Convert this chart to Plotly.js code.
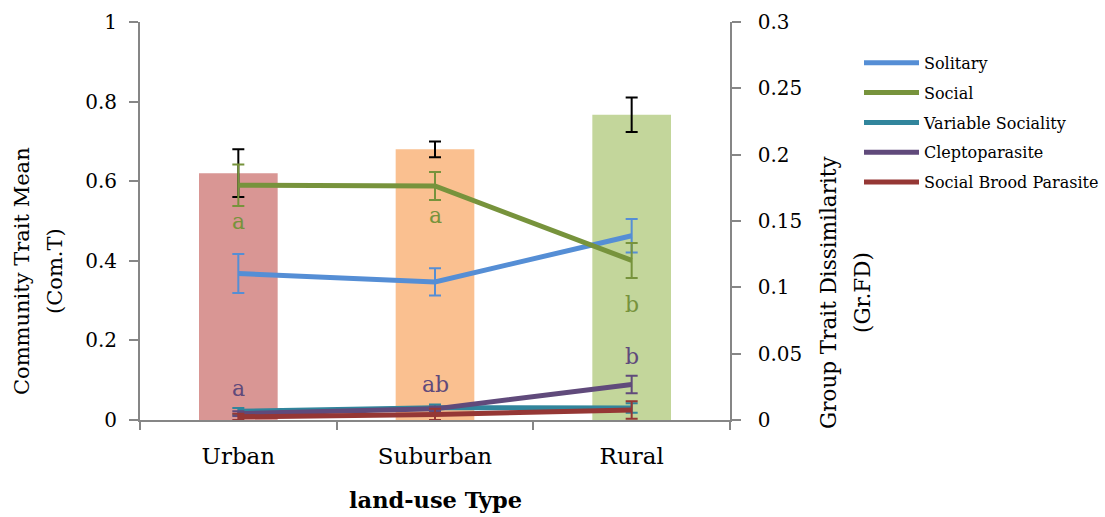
<!DOCTYPE html>
<html>
<head>
<meta charset="utf-8">
<script src="https://cdn.plot.ly/plotly-3.0.1.min.js"></script>
<style>html,body{margin:0;padding:0;background:#fff;}#chart{width:1105px;height:517px;}</style>
</head>
<body>
<div id="chart"></div>
<script>
// ---- data ----
const categories = ["Urban", "Suburban", "Rural"];
// Group Trait Dissimilarity (Gr.FD) bars, right axis
const grFD = [0.186, 0.204, 0.230];
const grFDErr = [0.018, 0.006, 0.013];
const barColors = ["#D99694", "#FAC090", "#C3D69B"];
// Community Trait Mean (Com.T) lines, left axis
const seriesNames = ["Solitary", "Social", "Variable Sociality", "Cleptoparasite", "Social Brood Parasite"];
const solitary = [0.368, 0.347, 0.463];
const solitaryErr = [0.049, 0.034, 0.042];
const social = [0.590, 0.588, 0.401];
const socialErr = [0.052, 0.035, 0.044];
const variableSociality = [0.022, 0.031, 0.030];
const variableSocialityErr = [0.008, 0.008, 0.012];
const cleptoparasite = [0.016, 0.028, 0.089];
const cleptoparasiteErr = [0.006, 0.006, 0.022];
const broodParasite = [0.008, 0.014, 0.025];
const broodParasiteErr = [0.008, 0.014, 0.022];
const lineColors = ["#558ED5", "#77933C", "#31859C", "#604A7B", "#953735"];
// significance letters
const letterText = ["a", "a", "b", "a", "ab", "b"];
const letterCat = ["Urban", "Suburban", "Rural", "Urban", "Suburban", "Rural"];
const letterY = [0.50, 0.515, 0.29, 0.08, 0.09, 0.16];
const letterColor = ["#77933C", "#77933C", "#77933C", "#604A7B", "#604A7B", "#604A7B"];
// titles
const xTitle = "land-use Type";
const leftTitle = ["Community Trait Mean", "(Com.T)"];
const rightTitle = ["Group Trait Dissimilarity", "(Gr.FD)"];

const FONT = "DejaVu Serif, Liberation Serif, serif";

const lineVals = [solitary, social, variableSociality, cleptoparasite, broodParasite];
const lineErrs = [solitaryErr, socialErr, variableSocialityErr, cleptoparasiteErr, broodParasiteErr];

const traces = [{
  type: "bar", x: categories, y: grFD, yaxis: "y",
  marker: {color: barColors}, width: 0.4, showlegend: false,
  error_y: {type: "data", array: grFDErr, visible: true, color: "#000000", thickness: 2, width: 6}
}];
seriesNames.forEach((n, i) => {
  traces.push({
    type: "scatter", mode: "lines", name: n, legendgroup: "g" + i, x: categories, y: lineVals[i], yaxis: "y2",
    line: {color: lineColors[i], width: 5},
    error_y: {type: "data", array: lineErrs[i], visible: true, color: lineColors[i], thickness: 2, width: 6}
  });
});

const annotations = letterText.map((t, i) => ({
  x: letterCat[i], y: letterY[i], xref: "x", yref: "y2", text: t, showarrow: false,
  font: {family: FONT, size: 22, color: letterColor[i]}
}));
// axis titles as annotations (paper coords relative to plot area: x 140..730 px, y 420..22 px)
const px = v => (v - 140) / 590;
const py = v => (420 - v) / 398;
annotations.push({xref: "paper", yref: "paper", x: px(435), y: py(500), text: "<b>" + xTitle + "</b>", showarrow: false,
  font: {family: FONT, size: 22.5, color: "#000"}, xanchor: "center", yanchor: "middle"});
annotations.push({xref: "paper", yref: "paper", x: px(22), y: py(271), text: leftTitle[0], textangle: -90, showarrow: false,
  font: {family: FONT, size: 21, color: "#000"}, xanchor: "center", yanchor: "middle"});
annotations.push({xref: "paper", yref: "paper", x: px(55), y: py(271), text: leftTitle[1], textangle: -90, showarrow: false,
  font: {family: FONT, size: 21, color: "#000"}, xanchor: "center", yanchor: "middle"});
annotations.push({xref: "paper", yref: "paper", x: px(828), y: py(293), text: rightTitle[0], textangle: -90, showarrow: false,
  font: {family: FONT, size: 21.5, color: "#000"}, xanchor: "center", yanchor: "middle"});
annotations.push({xref: "paper", yref: "paper", x: px(862), y: py(293), text: rightTitle[1], textangle: -90, showarrow: false,
  font: {family: FONT, size: 21.5, color: "#000"}, xanchor: "center", yanchor: "middle"});

const layout = {
  width: 1105, height: 517,
  margin: {l: 140, r: 375, t: 22, b: 97, autoexpand: false},
  paper_bgcolor: "#fff", plot_bgcolor: "#fff",
  font: {family: FONT, size: 20, color: "#000"},
  showlegend: true,
  legend: {x: px(859), xanchor: "left", y: 0.94, yanchor: "top", font: {family: FONT, size: 16},
    itemwidth: 55, bgcolor: "rgba(0,0,0,0)", tracegroupgap: 6, traceorder: "grouped"},
  xaxis: {
    type: "category", range: [-0.5, 2.5], showline: true, linecolor: "#868686", linewidth: 2,
    ticks: "outside", tickson: "boundaries", ticklen: 8, tickcolor: "#868686", tickwidth: 2,
    tickfont: {family: FONT, size: 23}, ticklabelstandoff: 14, showgrid: false, zeroline: false, automargin: false
  },
  yaxis: {
    side: "right", range: [0, 0.3], dtick: 0.05, showline: true, linecolor: "#868686", linewidth: 2,
    ticks: "outside", ticklen: 9, tickcolor: "#868686", tickwidth: 2, showgrid: false, zeroline: false,
    tickfont: {family: FONT, size: 20}, tickprefix: "\u00a0\u00a0", automargin: false
  },
  yaxis2: {
    overlaying: "y", side: "left", range: [0, 1], dtick: 0.2, showline: true, linecolor: "#868686", linewidth: 2,
    ticks: "outside", ticklen: 9, tickcolor: "#868686", tickwidth: 2, showgrid: false, zeroline: false,
    tickfont: {family: FONT, size: 20}, ticklabelstandoff: 8, automargin: false
  },
  annotations: annotations
};

Plotly.newPlot("chart", traces, layout, {displayModeBar: false, staticPlot: true});
</script>
</body>
</html>
